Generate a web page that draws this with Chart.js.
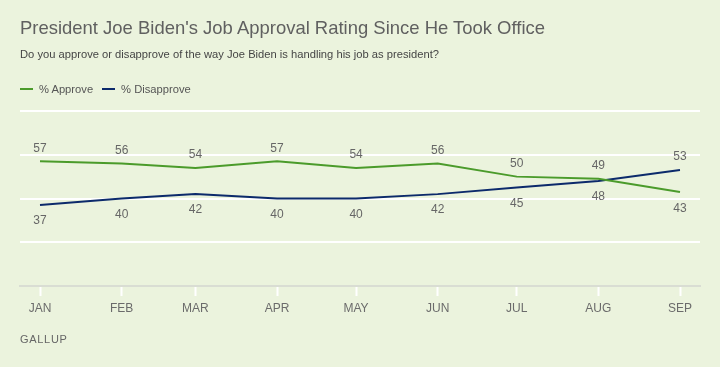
<!DOCTYPE html>
<html>
<head>
<meta charset="utf-8">
<script src="https://cdn.jsdelivr.net/npm/chart.js@4"></script>
<style>
  html, body { margin: 0; padding: 0; }
  body {
    width: 720px; height: 367px; overflow: hidden; position: relative;
    background: #ebf3dd;
    font-family: "Liberation Sans", Arial, sans-serif;
  }
  #chart { position: absolute; left: 0; top: 0; }
  .fit { position: absolute; white-space: nowrap; transform-origin: left center; line-height: 1; }
  #title { left: 20px; top: 18px; font-size: 19px; color: #606060; }
  #subtitle { left: 20px; top: 49px; font-size: 11px; color: #454545; }
  #legend { position: absolute; left: 20px; top: 82px; font-size: 11.2px; line-height: 14px; color: #555; }
  #legend span.item { display: inline-block; margin-right: 9px; }
  #legend i { display: inline-block; width: 13px; height: 2px; vertical-align: middle; margin-right: 6px; position: relative; top: -1px; }
  #footer { position: absolute; left: 20px; top: 333px; font-size: 11px; line-height: 12px; color: #666; letter-spacing: 0.7px; }
</style>
</head>
<body>
<canvas id="chart" width="720" height="367"></canvas>
<div id="title" class="fit" data-w="525">President Joe Biden's Job Approval Rating Since He Took Office</div>
<div id="subtitle" class="fit" data-w="419">Do you approve or disapprove of the way Joe Biden is handling his job as president?</div>
<div id="legend">
  <span class="item"><i style="background:#4b9b2b"></i>% Approve</span><span class="item"><i style="background:#0c2a6b"></i>% Disapprove</span>
</div>
<div id="footer">GALLUP</div>
<script>
const months = ["JAN", "FEB", "MAR", "APR", "MAY", "JUN", "JUL", "AUG", "SEP"];
const monthDates = ["2021-01-01", "2021-02-01", "2021-03-01", "2021-04-01", "2021-05-01",
  "2021-06-01", "2021-07-01", "2021-08-01", "2021-09-01"];
const approve = [57, 56, 54, 57, 54, 56, 50, 49, 43];
const disapprove = [37, 40, 42, 40, 40, 42, 45, 48, 53];
const yTicks = [0, 20, 40, 60, 80];

const approveColor = "#4b9b2b";
const disapproveColor = "#0c2a6b";

// squeeze header texts to the width they take in the original
document.querySelectorAll(".fit").forEach((el) => {
  const target = Number(el.dataset.w);
  const w = el.getBoundingClientRect().width;
  el.style.transform = `scaleX(${target / w})`;
});

const dayMs = 24 * 3600 * 1000;
const start = new Date(monthDates[0]).getTime();
const dayNum = monthDates.map((d) => Math.round((new Date(d).getTime() - start) / dayMs));

const pad = (dayNum[dayNum.length - 1] - dayNum[0]) * 20 / 640;

const valueLabels = {
  id: "valueLabels",
  afterDatasetsDraw(chart) {
    const ctx = chart.ctx;
    const a = chart.getDatasetMeta(0).data;
    const d = chart.getDatasetMeta(1).data;
    ctx.save();
    ctx.font = "12px 'Liberation Sans', Arial, sans-serif";
    ctx.fillStyle = "#666";
    ctx.textAlign = "center";
    ctx.textBaseline = "middle";
    approve.forEach((v, i) => {
      const aUp = v >= disapprove[i];
      ctx.fillText(String(v), a[i].x, a[i].y + (aUp ? -13 : 17));
      ctx.fillText(String(disapprove[i]), d[i].x, d[i].y + (aUp ? 16 : -13));
    });
    ctx.restore();
  },
};

new Chart(document.getElementById("chart"), {
  type: "line",
  data: {
    datasets: [
      {
        label: "% Approve",
        data: approve.map((v, i) => ({ x: dayNum[i], y: v })),
        borderColor: approveColor,
        borderWidth: 2,
        pointRadius: 0,
        tension: 0,
      },
      {
        label: "% Disapprove",
        data: disapprove.map((v, i) => ({ x: dayNum[i], y: v })),
        borderColor: disapproveColor,
        borderWidth: 2,
        pointRadius: 0,
        tension: 0,
      },
    ],
  },
  options: {
    responsive: false,
    animation: false,
    layout: { padding: { left: 20, right: 20, top: 111, bottom: 0 } },
    plugins: { legend: { display: false }, tooltip: { enabled: false } },
    scales: {
      x: {
        type: "linear",
        min: dayNum[0] - pad,
        max: dayNum[dayNum.length - 1] + pad,
        afterBuildTicks: (s) => { s.ticks = dayNum.map((v) => ({ value: v })); },
        afterFit: (s) => { s.height = 81; },
        ticks: {
          autoSkip: false,
          maxRotation: 0,
          padding: 5,
          color: "#6b6b6b",
          font: { family: "'Liberation Sans', Arial, sans-serif", size: 12 },
          callback: (v) => months[dayNum.indexOf(v)],
        },
        grid: { drawOnChartArea: false, drawTicks: true, tickLength: 10, tickColor: "#ffffff", tickWidth: 2 },
        border: { display: true, color: "#d9ddd3", width: 2 },
      },
      y: {
        min: 0,
        max: 80,
        afterBuildTicks: (s) => { s.ticks = yTicks.map((v) => ({ value: v })); },
        afterFit: (s) => { s.width = 0; },
        ticks: { display: false },
        grid: {
          drawTicks: false,
          lineWidth: 2,
          color: (c) => (c.tick && c.tick.value === 0 ? "rgba(0,0,0,0)" : "#ffffff"),
        },
        border: { display: false },
      },
    },
  },
  plugins: [valueLabels],
});
</script>
</body>
</html>
